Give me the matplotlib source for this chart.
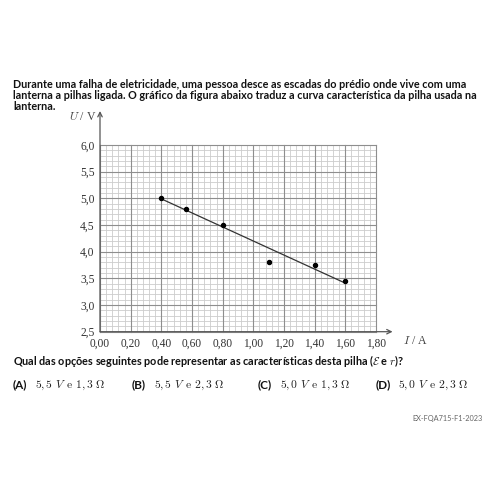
import matplotlib
matplotlib.use("Agg")
import matplotlib.pyplot as plt
import numpy as np

# Data
current_A = [0.40, 0.56, 0.80, 1.10, 1.40, 1.60]
voltage_V = [5.00, 4.80, 4.50, 3.80, 3.75, 3.45]
fit_x = [0.40, 1.60]
fit_y = [4.99, 3.41]
x_ticks = [0.0, 0.2, 0.4, 0.6, 0.8, 1.0, 1.2, 1.4, 1.6, 1.8]
x_tick_labels = ["0,00", "0,20", "0,40", "0,60", "0,80", "1,00", "1,20", "1,40", "1,60", "1,80"]
y_ticks = [2.5, 3.0, 3.5, 4.0, 4.5, 5.0, 5.5, 6.0]
y_tick_labels = ["2,5", "3,0", "3,5", "4,0", "4,5", "5,0", "5,5", "6,0"]

title_lines = [
    "Durante uma falha de eletricidade, uma pessoa desce as escadas do prédio onde vive com uma",
    "lanterna a pilhas ligada. O gráfico da figura abaixo traduz a curva característica da pilha usada na",
    "lanterna.",
]
question = "Qual das opções seguintes pode representar as características desta pilha ($\\mathcal{E}$ e $r$)?"
option_letters = ["(A)", "(B)", "(C)", "(D)"]
option_texts = [r"$5,5\ V\ \,\mathrm{e}\ 1,3\ \Omega$", r"$5,5\ V\ \,\mathrm{e}\ 2,3\ \Omega$",
                r"$5,0\ V\ \,\mathrm{e}\ 1,3\ \Omega$", r"$5,0\ V\ \,\mathrm{e}\ 2,3\ \Omega$"]
footer = "EX-FQA715-F1-2023"

plt.rcParams["mathtext.fontset"] = "cm"
sans = "Lato"
W, H = 500, 500
fig = plt.figure(figsize=(5, 5), dpi=100)

def px(x, y):
    return x / W, 1 - y / H

# Axes placement
left, right, top, bottom = 100, 376, 145, 331.7
ax = fig.add_axes([left / W, 1 - bottom / H, (right - left) / W, (bottom - top) / H])
ax.set_xlim(0, 1.8)
ax.set_ylim(2.5, 6.0)

# Grid
minor_x = np.arange(0, 1.8001, 0.04)
minor_y = np.arange(2.5, 6.0001, 0.1)
for xv in minor_x:
    ax.axvline(xv, color="#cccccc", lw=0.6, zorder=1, clip_on=False)
for yv in minor_y:
    ax.axhline(yv, color="#cccccc", lw=0.6, zorder=1, clip_on=False)
for xv in x_ticks:
    ax.axvline(xv, color="#8e8e8e", lw=0.8, zorder=1.5, clip_on=False)
for yv in y_ticks:
    ax.axhline(yv, color="#8e8e8e", lw=0.8, zorder=1.5, clip_on=False)

for s in ax.spines.values():
    s.set_visible(False)

ax.set_xticks(x_ticks)
ax.set_xticklabels(x_tick_labels, family="Liberation Serif", fontsize=8.3)
ax.set_yticks(y_ticks)
ax.set_yticklabels(y_tick_labels, family="Liberation Serif", fontsize=8.3)
ax.tick_params(length=0, pad=4, colors="#333333")

# Axis arrows
ax.annotate("", xy=(0, 1.182), xytext=(0, 0), xycoords="axes fraction",
            arrowprops=dict(arrowstyle="->", color="#555555", lw=0.9, shrinkA=0, shrinkB=0,
                            mutation_scale=8))
ax.annotate("", xy=(1.06, 0), xytext=(0, 0), xycoords="axes fraction",
            arrowprops=dict(arrowstyle="->", color="#555555", lw=0.9, shrinkA=0, shrinkB=0,
                            mutation_scale=8))

# Data
ax.plot(fit_x, fit_y, color="#333333", lw=0.9, zorder=3)
ax.plot(current_A, voltage_V, "o", color="black", ms=2.9, zorder=4, clip_on=False)

# Axis labels
fig.text(*px(97, 117), r"$U$ / V", family="Liberation Serif", fontsize=8.5, color="#444444",
         ha="right", va="center")
fig.text(*px(403, 341), r"$I$ / A", family="Liberation Serif", fontsize=8.5, color="#444444",
         ha="left", va="center")

# Title text
ys = [84, 95.5, 107]
for yv, t in zip(ys, title_lines):
    fig.text(*px(13, yv), t, family=sans, fontsize=7.75, weight="bold", color="#111111",
             ha="left", va="center")

fig.text(*px(13, 361), question, family=sans, fontsize=7.85, weight="bold", color="#111111",
         ha="left", va="center")

opt_x = [13, 132, 258, 376]
for xo, letter, t in zip(opt_x, option_letters, option_texts):
    fig.text(*px(xo, 385), letter, family=sans, fontsize=8.5, weight="bold", color="#111111",
             ha="left", va="center")
    fig.text(*px(xo + 22, 385), t, fontsize=8.3, color="#222222", ha="left", va="center")

fig.text(*px(483, 418), footer, family=sans, fontsize=5.3, color="#666666", ha="right", va="center")

fig.savefig("out.png", dpi=100, facecolor="white")
